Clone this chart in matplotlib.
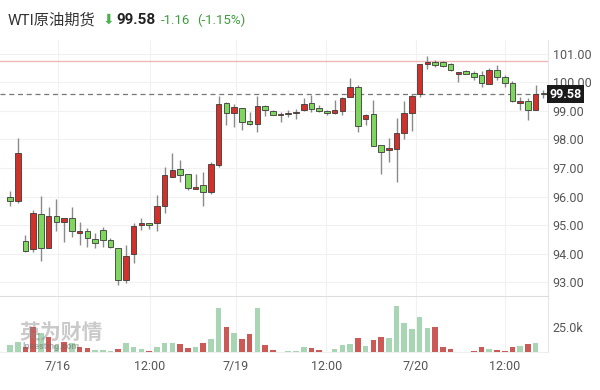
import matplotlib.pyplot as plt
import numpy as np

plt.rcParams['font.family'] = ['Roboto', 'Noto Sans CJK SC', 'DejaVu Sans']

# hourly candles, WTI crude futures
opens = [96.00, 95.84, 94.44, 94.16, 95.39, 94.19, 95.32, 95.10, 95.25, 94.72,
         94.79, 94.50, 94.82, 94.47, 94.19, 93.07, 93.98, 95.00, 95.07, 95.07,
         95.67, 96.68, 96.96, 96.79, 96.26, 96.40, 96.16, 97.10, 99.28, 98.93,
         99.10, 98.65, 98.54, 99.18, 99.00, 98.86, 98.90, 98.93, 99.03, 99.28,
         99.10, 99.00, 98.93, 99.00, 99.50, 99.85, 98.72, 98.90, 97.80, 97.63,
         97.67, 98.23, 98.93, 99.60, 100.65, 100.72, 100.72, 100.65, 100.30, 100.40,
         100.33, 100.26, 99.95, 100.44, 100.19, 99.98, 99.28, 99.35, 99.04, 99.62]
highs = [96.20, 98.05, 94.65, 95.53, 96.02, 95.63, 95.91, 95.25, 95.63, 95.10,
         94.90, 94.72, 94.93, 94.54, 94.19, 94.30, 95.07, 95.25, 95.07, 96.05,
         97.04, 97.53, 97.28, 96.79, 96.79, 96.86, 97.20, 99.53, 99.30, 99.25,
         99.10, 98.96, 99.53, 99.20, 99.04, 98.96, 99.04, 99.07, 99.46, 99.56,
         99.20, 99.03, 99.38, 99.50, 100.16, 99.90, 98.90, 99.38, 97.80, 98.05,
         98.75, 99.35, 99.60, 100.65, 100.93, 100.80, 100.75, 100.70, 100.37, 100.45,
         100.42, 100.40, 100.50, 100.60, 100.26, 100.05, 99.50, 99.46, 99.91, 99.75]
lows = [95.65, 95.77, 94.05, 94.05, 93.74, 94.19, 94.79, 94.40, 94.58, 94.30,
        94.23, 94.19, 94.23, 94.20, 92.90, 92.96, 93.67, 94.82, 94.86, 94.79,
        95.42, 96.68, 96.50, 96.23, 96.26, 95.67, 96.10, 97.05, 98.50, 98.44,
        98.33, 98.50, 98.26, 98.82, 98.86, 98.60, 98.80, 98.72, 99.00, 98.96,
        98.95, 98.86, 98.90, 98.86, 99.50, 98.26, 98.50, 97.77, 96.79, 97.20,
        96.50, 98.00, 98.30, 99.50, 100.47, 100.55, 100.55, 100.40, 100.02, 100.28,
        100.08, 99.85, 99.93, 100.10, 99.85, 99.30, 99.05, 98.68, 99.04, 99.45]
closes = [95.85, 97.53, 94.09, 95.42, 94.19, 95.32, 95.10, 95.25, 94.79, 94.79,
          94.54, 94.37, 94.47, 94.23, 93.07, 93.91, 94.96, 95.07, 95.00, 95.67,
          96.75, 96.93, 96.75, 96.30, 96.33, 96.16, 97.14, 99.25, 98.93, 99.14,
          98.60, 98.54, 99.18, 99.04, 98.86, 98.90, 98.93, 98.96, 99.25, 99.07,
          99.00, 98.93, 99.03, 99.46, 99.85, 98.47, 98.86, 97.77, 97.56, 97.70,
          98.23, 98.93, 99.53, 100.65, 100.72, 100.62, 100.58, 100.44, 100.37, 100.30,
          100.19, 99.98, 100.44, 100.19, 99.98, 99.35, 99.35, 99.04, 99.60, 99.58]

# volume in thousands, bar colour as shown ('g' / 'r')
volumes = [7, 10, 5, 25, 19, 15, 7, 10, 9, 5,
           4, 2, 2, 1, 3, 9, 5, 3, 1, 5,
           9, 9, 8, 4, 5, 9, 13, 44, 25, 19,
           13, 18, 44, 7, 2, 0.5, 1, 1, 5, 4,
           2, 0.5, 3, 7, 8, 14, 6, 12, 15, 14,
           46, 29, 23, 35, 24, 25, 5, 3, 0, 0.5,
           1, 5, 3, 2, 1, 5, 6, 8, 9, 0]
vol_dir = ['g', 'g', 'r', 'r', 'g', 'r', 'g', 'r', 'g', 'r',
           'r', 'g', 'g', 'g', 'r', 'g', 'g', 'g', 'r', 'g',
           'g', 'g', 'r', 'r', 'g', 'r', 'g', 'g', 'r', 'g',
           'r', 'r', 'g', 'r', 'r', 'g', 'g', 'g', 'g', 'r',
           'r', 'g', 'g', 'g', 'g', 'r', 'g', 'r', 'r', 'g',
           'g', 'g', 'g', 'g', 'g', 'r', 'r', 'r', 'g', 'g',
           'r', 'r', 'g', 'r', 'r', 'r', 'g', 'r', 'g', 'g']

tick_pos = [6.2, 18.1, 29.2, 40.9, 52.5, 64.0]
tick_labels = ['7/16', '12:00', '7/19', '12:00', '7/20', '12:00']
price_ticks = [93, 94, 95, 96, 97, 98, 99, 100, 101]

last_price = 99.58
prev_close = 100.74

W, H = 600, 390
fig = plt.figure(figsize=(6, 3.9), dpi=100)

x0 = -10 / 7.73
x1 = 538 / 7.73
ax = fig.add_axes([0, (H - 296) / H, 548 / W, 256 / H])
axv = fig.add_axes([0, (H - 352) / H, 548 / W, 56 / H])

o = np.array(opens); c = np.array(closes)
hi = np.array(highs); lo = np.array(lows)
x = np.arange(len(o))
up = c >= o
body_col = np.where(up, '#d2312b', '#7fd65c')
bot = np.minimum(o, c)
ht = np.maximum(np.abs(c - o), 0.04)

ax.vlines(x, lo, hi, color='#8a8a8a', lw=1.0, zorder=2)
ax.bar(x, ht, bottom=bot, width=0.72, color=body_col, edgecolor='#3a3a3a',
       linewidth=0.6, zorder=3)

ax.axhline(prev_close, color='#f2b8b8', lw=1.0, zorder=1)
ax.axhline(last_price, color='#777777', lw=0.9, ls=(0, (4, 3)), zorder=1)

ax.set_xlim(x0, x1)
ax.set_ylim(92.51, 101.49)
ax.set_yticks(price_ticks)
ax.yaxis.tick_right()
ax.set_yticklabels(['%.2f' % p for p in price_ticks])
ax.tick_params(axis='y', length=0, pad=3.5, labelsize=9, labelcolor='#555555')
ax.set_xticks(tick_pos)
ax.tick_params(axis='x', length=0, labelbottom=False)
ax.grid(True, color='#f1f1f1', lw=0.8)
ax.set_axisbelow(True)
for s in ['top', 'left', 'bottom']:
    ax.spines[s].set_visible(False)
ax.spines['right'].set_color('#e6e6e6')

# last price tag
ax.text(1.003, last_price, '%.2f' % last_price, transform=ax.get_yaxis_transform(),
        ha='left', va='center', fontsize=9, fontweight='bold', color='white',
        bbox=dict(boxstyle='square,pad=0.2', fc='#1a1a1a', ec='none'), clip_on=False)

vcol = ['#a8d5b4' if d == 'g' else '#cb5a57' for d in vol_dir]
axv.bar(x, volumes, width=0.72, color=vcol, zorder=3)
axv.set_xlim(x0, x1)
axv.set_ylim(0, 56)
axv.set_yticks([25])
axv.set_yticklabels(['25.0k'])
axv.yaxis.tick_right()
axv.tick_params(axis='y', length=0, pad=3.5, labelsize=9, labelcolor='#555555')
axv.set_xticks(tick_pos)
axv.set_xticklabels(tick_labels)
axv.tick_params(axis='x', length=0, pad=6, labelsize=9, labelcolor='#555555')
axv.grid(True, axis='x', color='#f1f1f1', lw=0.8)
axv.set_axisbelow(True)
axv.spines['left'].set_visible(False)
axv.spines['top'].set_color('#dddddd')
axv.spines['bottom'].set_color('#eeeeee')
axv.spines['right'].set_color('#e6e6e6')

# watermark
axv.text(0.035, 0.33, '英为财情', transform=axv.transAxes, fontsize=15,
         fontweight='bold', color='#8a8a8a', alpha=0.45, va='center', zorder=4)
axv.text(0.04, 0.05, 'Investing.com', transform=axv.transAxes, fontsize=6.5,
         fontweight='bold', color='#666666', alpha=0.5, zorder=4)

# header
fig.text(8 / W, 1 - 20 / H, 'WTI原油期货', fontsize=11, color='#333333', va='center')
fig.text(103 / W, 1 - 20 / H, '⬇', fontsize=10, color='#4caf50', va='center',
         family=['DejaVu Sans'])
fig.text(116 / W, 1 - 20 / H, '99.58', fontsize=11, fontweight='bold',
         color='#222222', va='center')
fig.text(161 / W, 1 - 20 / H, '-1.16', fontsize=9.5, color='#3f9b3f', va='center')
fig.text(197 / W, 1 - 20 / H, '(-1.15%)', fontsize=9.5, color='#3f9b3f', va='center')

fig.savefig('out.png', dpi=100)
